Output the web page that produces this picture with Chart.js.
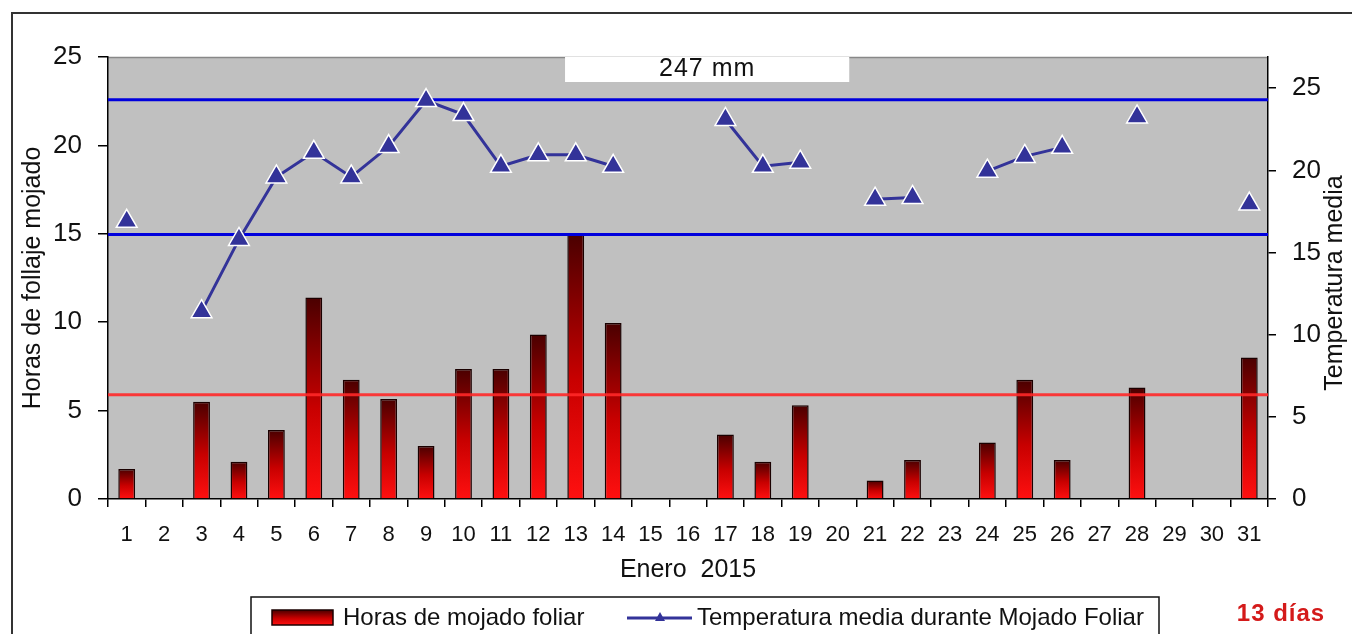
<!DOCTYPE html>
<html>
<head>
<meta charset="utf-8">
<script src="https://cdn.jsdelivr.net/npm/chart.js@4/dist/chart.umd.min.js"></script>
<style>
  html, body { margin: 0; padding: 0; background: #fff; }
  #wrap { width: 1352px; height: 634px; }
</style>
</head>
<body>
<div id="wrap"><canvas id="chart" width="1352" height="634"></canvas></div>
<script>
// data
const days = ['1','2','3','4','5','6','7','8','9','10','11','12','13','14','15','16',
  '17','18','19','20','21','22','23','24','25','26','27','28','29','30','31'];
const hours = [1.7, null, 5.5, 2.1, 3.9, 11.4, 6.75, 5.65, 3.0, 7.35, 7.35, 9.3, 15.0, 9.95, null, null,
  3.65, 2.1, 5.3, null, 1.05, 2.2, null, 3.2, 6.75, 2.2, null, 6.3, null, null, 8.0];
const temps = [16.9, null, 11.4, 15.8, 19.6, 21.1, 19.6, 21.45, 24.25, 23.4, 20.25, 20.95, 20.95, 20.25, null, null,
  23.1, 20.25, 20.5, null, 18.25, 18.35, null, 19.95, 20.85, 21.4, null, 23.25, null, null, 17.95];
const leftTicks = [0, 5, 10, 15, 20, 25];
const rightTicks = [0, 5, 10, 15, 20, 25];
const tempLimits = [24.3, 16.1];   // blue lines, right axis
const hoursMean = [5.9];           // red line, left axis
const rainText = '247 mm';
const daysText = '13 días';
const barLabel = 'Horas de mojado foliar';
const lineLabel = 'Temperatura media durante Mojado Foliar';

const FONT = "'Liberation Sans', Arial, sans-serif";
const LINE_BLUE = '#333399';

function barGradient(c, top, bottom) {
  const g = c.createLinearGradient(0, top, 0, bottom);
  g.addColorStop(0, '#4a0000');
  g.addColorStop(0.55, '#c80000');
  g.addColorStop(1, '#ff1010');
  return g;
}

const decor = {
  id: 'decor',
  beforeDraw(chart) {
    const { ctx, chartArea: a } = chart;
    ctx.save();
    // outer frame
    ctx.strokeStyle = '#333';
    ctx.lineWidth = 2;
    ctx.strokeRect(12, 13, 1400, 700);
    // plot background
    ctx.fillStyle = '#c0c0c0';
    ctx.fillRect(a.left, a.top, a.right - a.left, a.bottom - a.top);
    ctx.strokeStyle = '#888';
    ctx.lineWidth = 1.5;
    ctx.beginPath();
    ctx.moveTo(a.left, a.top + 0.5);
    ctx.lineTo(a.right, a.top + 0.5);
    ctx.stroke();
    // rain box
    const w = a.right - a.left;
    const bx = a.left + 0.394 * w, bw = 0.245 * w;
    ctx.fillStyle = '#fff';
    ctx.fillRect(bx, a.top, bw, 25);
    ctx.fillStyle = '#111';
    ctx.font = '25px ' + FONT;
    ctx.letterSpacing = '1px';
    ctx.textAlign = 'center';
    ctx.textBaseline = 'middle';
    ctx.fillText(rainText, bx + bw / 2, a.top + 12);
    ctx.restore();
  },
  afterDatasetDraw(chart, args) {
    if (args.index !== 0) return;
    const { ctx, chartArea: a, scales } = chart;
    ctx.save();
    ctx.lineWidth = 3;
    ctx.strokeStyle = '#0000dd';
    tempLimits.forEach(v => {
      const y = scales.y2.getPixelForValue(v);
      ctx.beginPath(); ctx.moveTo(a.left, y); ctx.lineTo(a.right, y); ctx.stroke();
    });
    ctx.strokeStyle = 'rgba(255,40,40,0.9)';
    hoursMean.forEach(v => {
      const y = scales.y.getPixelForValue(v);
      ctx.beginPath(); ctx.moveTo(a.left, y); ctx.lineTo(a.right, y); ctx.stroke();
    });
    ctx.restore();
  },
  afterDraw(chart) {
    const { ctx, chartArea: a } = chart;
    ctx.save();
    // right axis title, reading bottom to top
    ctx.fillStyle = '#111';
    ctx.font = '25px ' + FONT;
    ctx.textAlign = 'center';
    ctx.textBaseline = 'middle';
    ctx.translate(1335, (a.top + a.bottom) / 2 + 5);
    ctx.rotate(-Math.PI / 2);
    ctx.fillText('Temperatura media', 0, 0);
    ctx.restore();

    // legend
    ctx.save();
    ctx.strokeStyle = '#111';
    ctx.lineWidth = 1.5;
    ctx.strokeRect(251, 597, 908, 60);
    const ly = 618;
    ctx.fillStyle = barGradient(ctx, 610, 625);
    ctx.fillRect(272, 610, 61, 15);
    ctx.strokeStyle = '#1a0000';
    ctx.strokeRect(272, 610, 61, 15);
    ctx.font = '24px ' + FONT;
    ctx.fillStyle = '#111';
    ctx.textBaseline = 'middle';
    ctx.textAlign = 'left';
    ctx.fillText(barLabel, 343, ly);
    ctx.strokeStyle = LINE_BLUE;
    ctx.lineWidth = 3;
    ctx.beginPath(); ctx.moveTo(627, ly); ctx.lineTo(692, ly); ctx.stroke();
    ctx.fillStyle = LINE_BLUE;
    ctx.beginPath(); ctx.moveTo(660, ly - 6); ctx.lineTo(665, ly + 3); ctx.lineTo(655, ly + 3); ctx.closePath(); ctx.fill();
    ctx.fillStyle = '#111';
    ctx.fillText(lineLabel, 697, ly);
    ctx.font = 'bold 24px ' + FONT;
    ctx.letterSpacing = '1px';
    ctx.fillStyle = '#d41a1a';
    ctx.textAlign = 'center';
    ctx.fillText(daysText, 1281, 614);
    ctx.restore();
  }
};

new Chart(document.getElementById('chart').getContext('2d'), {
  data: {
    labels: days,
    datasets: [{
      type: 'bar',
      label: barLabel,
      data: hours,
      yAxisID: 'y',
      order: 1,
      barPercentage: 0.45,
      categoryPercentage: 1,
      borderColor: '#1a0000',
      borderWidth: 1.5,
      backgroundColor: c => {
        const ch = c.chart;
        if (!ch.chartArea || c.raw == null) return '#c00000';
        const y = ch.scales.y;
        return barGradient(ch.ctx, y.getPixelForValue(c.raw), y.getPixelForValue(0));
      }
    }, {
      type: 'line',
      label: lineLabel,
      data: temps,
      yAxisID: 'y2',
      order: 0,
      spanGaps: false,
      borderColor: LINE_BLUE,
      borderWidth: 3,
      pointStyle: 'triangle',
      pointRadius: 12,
      pointBackgroundColor: LINE_BLUE,
      pointBorderColor: '#fff',
      pointBorderWidth: 1.5
    }]
  },
  options: {
    responsive: false,
    animation: false,
    layout: { padding: { left: 18, right: 0, top: 57, bottom: 44 } },
    plugins: { legend: { display: false }, tooltip: { enabled: false } },
    scales: {
      x: {
        offset: true,
        grid: { offset: true, drawOnChartArea: false, color: '#000', lineWidth: 1.5, tickLength: 8 },
        border: { color: '#000', width: 1.5 },
        ticks: { autoSkip: false, maxRotation: 0, padding: 15, color: '#111', font: { family: FONT, size: 22 } },
        title: { display: true, text: 'Enero  2015', color: '#111', font: { family: FONT, size: 25 }, padding: { top: 4, bottom: 5 } },
        afterFit: s => { s.height = 91; }
      },
      y: {
        position: 'left',
        min: 0,
        max: 25,
        afterBuildTicks: s => { s.ticks = leftTicks.map(v => ({ value: v })); },
        grid: { drawOnChartArea: false, color: '#000', lineWidth: 1.5, tickLength: 10 },
        border: { color: '#000', width: 1.5 },
        ticks: { padding: 16, color: '#111', font: { family: FONT, size: 26 } },
        title: { display: true, text: 'Horas de follaje mojado', color: '#111', font: { family: FONT, size: 25 }, padding: 0 },
        afterFit: s => { s.width = 90; }
      },
      y2: {
        position: 'right',
        min: 0,
        max: 26.9,
        afterBuildTicks: s => { s.ticks = rightTicks.map(v => ({ value: v })); },
        grid: { drawOnChartArea: false, color: '#000', lineWidth: 1.5, tickLength: 8 },
        border: { color: '#000', width: 1.5 },
        ticks: { padding: 16, color: '#111', font: { family: FONT, size: 26 } },
        afterFit: s => { s.width = 84; }
      }
    }
  },
  plugins: [decor]
});
</script>
</body>
</html>
